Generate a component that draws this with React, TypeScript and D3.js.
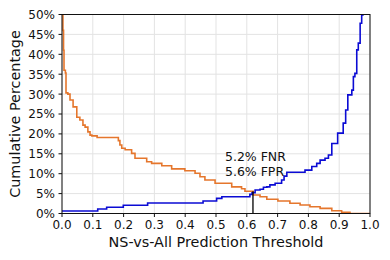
import React from "react";
import * as d3 from "d3";

const xTicks = [0, 0.1, 0.2, 0.3, 0.4, 0.5, 0.6, 0.7, 0.8, 0.9, 1.0];
const yTicks = [0, 5, 10, 15, 20, 25, 30, 35, 40, 45, 50];

// FPR (orange): [threshold, cumulative %] step-after
const fprData: [number, number][] = [
  [0, 60], [0.0016, 50], [0.003, 46], [0.005, 41], [0.0065, 36], [0.011, 35.3],
  [0.013, 30.3], [0.019, 30], [0.026, 28.5], [0.036, 26.8], [0.048, 24.2],
  [0.058, 23.5], [0.068, 22.2], [0.075, 21.7], [0.084, 20.5], [0.091, 19.7],
  [0.097, 19.5], [0.114, 19.1], [0.183, 18.3], [0.188, 17.2], [0.194, 16.4],
  [0.205, 16.0], [0.226, 15.1], [0.237, 13.9], [0.275, 13.0], [0.291, 12.6],
  [0.324, 12.0], [0.356, 11.2], [0.399, 10.75], [0.432, 10.1], [0.448, 9.25],
  [0.464, 8.4], [0.497, 7.6], [0.551, 6.7], [0.583, 6.2], [0.594, 5.6],
  [0.621, 4.65], [0.643, 4.2], [0.665, 3.57], [0.701, 3.14], [0.74, 2.56],
  [0.773, 2.14], [0.805, 1.7], [0.838, 1.3], [0.876, 0.7], [0.908, 0.3],
  [0.935, 0], [1.0, 0],
];

// FNR (blue)
const fnrData: [number, number][] = [
  [0, 0.63], [0.116, 1.13], [0.145, 1.56], [0.199, 2.06], [0.278, 2.65],
  [0.458, 3.14], [0.502, 3.8], [0.519, 4.2], [0.61, 4.8], [0.617, 5.2],
  [0.627, 5.9], [0.643, 6.1], [0.654, 6.6], [0.665, 6.7], [0.675, 7.2],
  [0.692, 7.6], [0.713, 8.4], [0.721, 9.4], [0.73, 10.35], [0.789, 10.9],
  [0.811, 11.8], [0.827, 12.6], [0.838, 13.4], [0.854, 13.9], [0.865, 14.7],
  [0.876, 17.6], [0.895, 20.2], [0.913, 22.7], [0.921, 26], [0.928, 29.8],
  [0.941, 31], [0.946, 34.4], [0.951, 35.2], [0.957, 41.1], [0.962, 42.8],
  [0.968, 47.8], [0.973, 49.9], [0.977, 55],
];

const threshold = 0.62;
const fnrAt = 5.2;
const fprAt = 5.6;

const W = 390, H = 260;
const L = 62, R = 370, T = 14.5, B = 213.5;
const ORANGE = "#e5762c";
const BLUE = "#0b0bd4";
const FONT = "DejaVu Sans, sans-serif";

export default function App() {
  const x = d3.scaleLinear().domain([0, 1]).range([L, R]);
  const y = d3.scaleLinear().domain([0, 50]).range([B, T]);
  const line = d3.line<[number, number]>()
    .x(d => x(d[0]))
    .y(d => y(d[1]))
    .curve(d3.curveStepAfter);

  return (
    <svg width={W} height={H} style={{ position: "absolute", left: 0, top: 0, background: "#fff" }}>
      <defs>
        <clipPath id="plot">
          <rect x={L} y={T} width={R - L} height={B - T} />
        </clipPath>
      </defs>
      <rect x={0} y={0} width={W} height={H} fill="#fff" />
      {xTicks.map(t => (
        <line key={"gx" + t} x1={x(t)} x2={x(t)} y1={T} y2={B} stroke="#e3e3e3" strokeWidth={1} />
      ))}
      {yTicks.map(t => (
        <line key={"gy" + t} x1={L} x2={R} y1={y(t)} y2={y(t)} stroke="#e3e3e3" strokeWidth={1} />
      ))}
      <g clipPath="url(#plot)">
        <path d={line(fprData) || ""} fill="none" stroke={ORANGE} strokeWidth={1.6} />
        <path d={line(fnrData) || ""} fill="none" stroke={BLUE} strokeWidth={1.6} />
      </g>
      <line x1={x(threshold)} x2={x(threshold)} y1={y(fprAt)} y2={B} stroke="#000" strokeWidth={1.3} />
      <text x={x(threshold) - 28} y={161} fontFamily={FONT} fontSize={12.5} fill="#111">{`${fnrAt}% FNR`}</text>
      <text x={x(threshold) - 28} y={176} fontFamily={FONT} fontSize={12.5} fill="#111">{`${fprAt}% FPR`}</text>
      <rect x={L} y={T} width={R - L} height={B - T} fill="none" stroke="#111" strokeWidth={1} />
      {xTicks.map(t => (
        <g key={"tx" + t}>
          <line x1={x(t)} x2={x(t)} y1={B} y2={B + 3.5} stroke="#111" />
          <text x={x(t)} y={229} textAnchor="middle" fontFamily={FONT} fontSize={12} fill="#111">{t.toFixed(1)}</text>
        </g>
      ))}
      {yTicks.map(t => (
        <g key={"ty" + t}>
          <line x1={L - 3.5} x2={L} y1={y(t)} y2={y(t)} stroke="#111" />
          <text x={L - 7} y={y(t) + 4.4} textAnchor="end" fontFamily={FONT} fontSize={12} fill="#111">{`${t}%`}</text>
        </g>
      ))}
      <text x={(L + R) / 2} y={247} textAnchor="middle" fontFamily={FONT} fontSize={14.4} fill="#111">NS-vs-All Prediction Threshold</text>
      <text transform={`translate(20, ${(T + B) / 2}) rotate(-90)`} textAnchor="middle" fontFamily={FONT} fontSize={14.4} fill="#111">Cumulative Percentage</text>
    </svg>
  );
}
